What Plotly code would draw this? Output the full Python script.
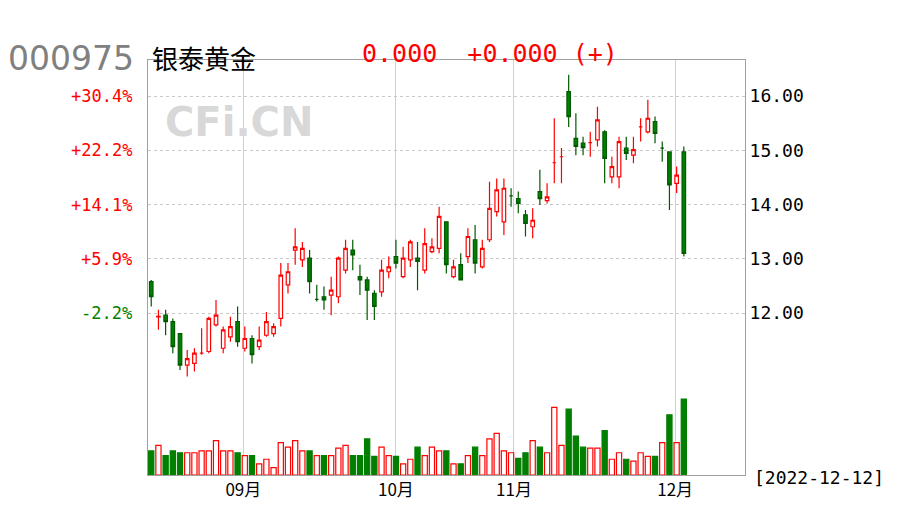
import plotly.graph_objects as go

opens = [12.58,11.93,11.96,11.84,11.62,11.04,11.07,11.26,11.29,11.78,11.35,11.56,11.84,11.35,11.53,11.38,11.59,11.62,11.90,12.52,
         13.16,12.98,13.01,12.25,12.30,12.33,12.30,12.79,13.16,12.67,12.61,12.36,12.39,12.76,13.04,12.67,12.98,13.01,12.79,13.13,
         13.19,13.68,12.67,12.89,13.04,13.35,12.85,13.35,13.87,13.68,14.16,14.11,13.81,13.59,14.24,14.07,14.77,14.88,16.08,15.22,
         15.13,15.14,15.19,15.34,14.51,14.51,15.04,14.91,15.43,15.34,15.53,15.04,14.97,14.39,14.97]
closes = [12.30,11.94,11.84,11.38,11.04,11.16,11.26,11.26,11.90,11.96,11.69,11.75,11.47,11.53,11.23,11.50,11.84,11.75,12.70,12.76,
          13.22,13.19,12.58,12.25,12.24,12.42,13.01,13.19,13.07,12.61,12.42,12.12,12.79,12.85,12.92,13.01,13.31,12.95,13.28,13.22,
          13.78,12.89,12.85,12.61,13.41,12.92,13.19,13.93,14.27,14.30,14.16,14.02,13.65,13.71,14.11,14.14,14.77,14.88,15.62,15.07,
          15.05,15.14,15.56,14.85,14.70,15.16,14.94,15.01,15.43,15.59,15.31,15.04,14.36,14.54,13.10]
highs = [12.61,12.06,12.06,11.90,11.62,11.32,11.35,11.72,11.93,12.24,11.75,11.93,12.12,11.75,11.59,11.75,12.02,11.81,12.92,12.92,
         13.56,13.31,13.16,12.52,12.49,12.67,13.04,13.35,13.35,12.89,12.67,12.42,12.98,13.04,13.35,13.22,13.35,13.31,13.56,13.38,
         13.96,13.68,12.98,13.10,13.56,13.62,13.35,14.42,14.48,14.48,14.30,14.24,13.90,13.93,14.64,14.39,15.59,15.04,16.39,15.68,
         15.25,15.34,15.80,15.37,14.88,15.25,15.25,15.25,15.59,15.93,15.62,15.16,14.97,14.70,15.07]
lows = [12.12,11.69,11.59,11.26,10.95,10.83,10.92,11.23,11.26,11.75,11.26,11.47,11.38,11.29,11.07,11.32,11.56,11.56,11.75,12.36,
        12.89,12.85,12.36,12.21,12.06,11.96,12.18,12.73,12.79,12.33,11.87,11.87,12.30,12.64,12.82,12.64,12.85,12.42,12.73,13.10,
        13.10,12.73,12.64,12.61,12.92,12.73,12.82,13.31,13.78,13.44,13.96,13.84,13.41,13.38,13.99,14.02,14.39,14.39,15.43,14.91,
        14.91,14.88,15.07,14.39,14.39,14.30,14.82,14.76,15.16,15.31,15.13,14.79,13.90,14.21,13.04]
volumes = [26,32,21,26,24,24,24,26,26,37,26,26,24,21,21,12,17,8,35,30,
           37,26,26,21,21,21,29,32,21,21,39,20,30,21,20,12,17,30,21,30,
           26,26,12,12,21,30,21,39,45,26,24,18,24,37,30,24,73,32,71,42,
           30,29,29,48,17,24,17,15,24,20,20,35,65,35,82]
month_pos = [12.8, 34.0, 50.4, 72.8]
month_labels = ["09月", "10月", "11月", "12月"]
price_ticks = [12, 13, 14, 15, 16]
pct_labels = ["-2.2%", "+5.9%", "+14.1%", "+22.2%", "+30.4%"]

idx = list(range(len(opens)))
RED, GREEN = "#ff0000", "#007f00"
up = [c >= o for o, c in zip(opens, closes)]

fig = go.Figure()
fig.add_trace(go.Bar(x=idx, y=volumes, yaxis="y2", width=0.72,
                     marker=dict(color=["white" if u else GREEN for u in up],
                                 line=dict(color=[RED if u else GREEN for u in up], width=1.2)),
                     showlegend=False))
fig.add_trace(go.Candlestick(x=idx, open=opens, high=highs, low=lows, close=closes,
                             increasing=dict(line=dict(color=RED, width=1.2), fillcolor="white"),
                             decreasing=dict(line=dict(color="#005a00", width=1.2), fillcolor=GREEN),
                             whiskerwidth=0, showlegend=False))

H = 415.0
W = 597.0
ptop = 16 + 36 / 54.25
pbot = 12 - 162 / 54.25
vmax = max(volumes)
MONO = "DejaVu Sans Mono, monospace"
fig.update_layout(
    width=903, height=529, margin=dict(l=140, r=166, t=52, b=62),
    paper_bgcolor="white", plot_bgcolor="white",
    font=dict(family="Noto Sans CJK SC, DejaVu Sans", size=15, color="black"),
    xaxis=dict(range=[-0.45, 82.5], tickvals=month_pos, ticktext=month_labels,
               showgrid=True, gridcolor="#d0d0d0", showline=True, mirror=True,
               linecolor="#a0a0a0", ticks="", rangeslider=dict(visible=False), zeroline=False,
               tickfont=dict(size=17)),
    yaxis=dict(range=[pbot, ptop], side="right", tickvals=price_ticks,
               ticktext=[f"{p:.2f}" for p in price_ticks], showgrid=True, gridcolor="#c8c8c8",
               griddash="dot", showline=True, mirror=True, linecolor="#a0a0a0", zeroline=False,
               ticks="", tickfont=dict(family=MONO, size=18)),
    yaxis2=dict(range=[0, vmax * H / 76], overlaying="y", visible=False),
    bargap=0.2,
)
for p, t in zip(price_ticks, pct_labels):
    fig.add_annotation(x=0, xref="paper", xanchor="right", xshift=-14, y=p, yref="y",
                       text=t, showarrow=False,
                       font=dict(family=MONO, size=17,
                                 color=GREEN if t.startswith("-") else RED))
def px(xp): return (xp - 148) / W
def py(yp): return (475 - yp) / H
fig.add_shape(type="line", xref="paper", yref="paper", x0=px(0), x1=px(903), y0=py(1), y1=py(1),
              line=dict(color="#b0b0b0", width=1.5))
fig.add_annotation(x=px(6), y=py(37), xref="paper", yref="paper", xanchor="left", showarrow=False,
                   text="000975", font=dict(family="DejaVu Sans", size=33, color="#808080"))
fig.add_annotation(x=px(150), y=py(37), xref="paper", yref="paper", xanchor="left", showarrow=False,
                   text="银泰黄金", font=dict(family="Noto Sans CJK SC", size=26, color="black"))
fig.add_annotation(x=px(360), y=py(37), xref="paper", yref="paper", xanchor="left", showarrow=False,
                   text="0.000  +0.000 (+)", font=dict(family=MONO, size=25, color=RED))
fig.add_annotation(x=px(163), y=py(97), xref="paper", yref="paper", xanchor="left", showarrow=False,
                   text="<b>CFi.CN</b>", font=dict(family="DejaVu Sans", size=40, color="#d8d8d8"))
fig.add_annotation(x=px(752), y=py(490), xref="paper", yref="paper", xanchor="left", showarrow=False,
                   text="[2022-12-12]", font=dict(family=MONO, size=18, color="black"))
fig.write_html("out.html")
